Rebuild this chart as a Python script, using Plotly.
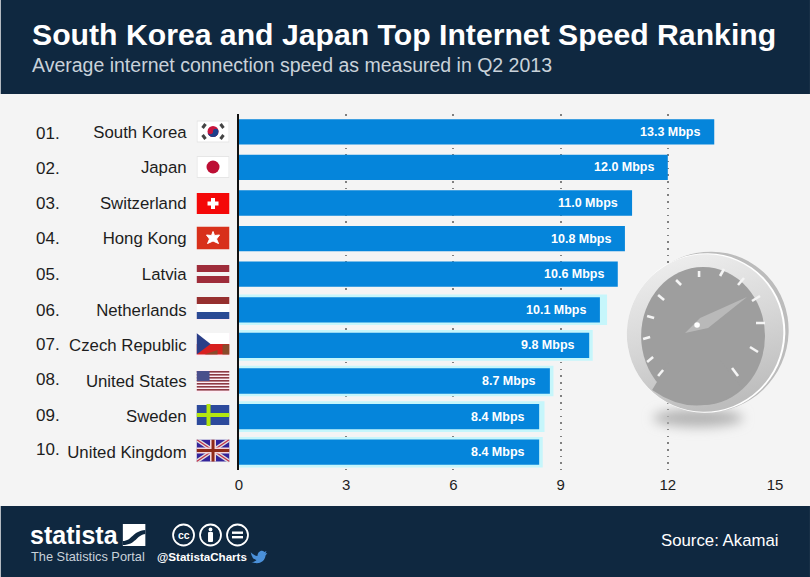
import base64
import plotly.graph_objects as go

# chart data
countries = ['South Korea', 'Japan', 'Switzerland', 'Hong Kong', 'Latvia',
             'Netherlands', 'Czech Republic', 'United States', 'Sweden', 'United Kingdom']
ranks = ['01.', '02.', '03.', '04.', '05.', '06.', '07.', '08.', '09.', '10.']
speeds = [13.3, 12.0, 11.0, 10.8, 10.6, 10.1, 9.8, 8.7, 8.4, 8.4]
# pale fringe that sits behind the lower bars in the picture
fringe = [0, 0, 0, 0, 0, 10.3, 9.9, 8.8, 8.55, 8.5]
x_ticks = [0, 3, 6, 9, 12, 15]

W, H = 810, 577
L, R, T, B = 238.5, 35, 114, 107
DARK = '#0f2840'
FONT = 'Liberation Sans, Arial, sans-serif'


def px(x):
    return (x - L) / (W - L - R)


def py(y):
    return 1 - (y - T) / (H - T - B)


def svg_image(svg, x, y, w, h):
    svg = f'<svg xmlns="http://www.w3.org/2000/svg" width="{w}" height="{h}" viewBox="0 0 {w} {h}">{svg}</svg>'
    src = 'data:image/svg+xml;base64,' + base64.b64encode(svg.encode()).decode()
    return dict(source=src, xref='paper', yref='paper', x=px(x), y=py(y),
                sizex=w / (W - L - R), sizey=h / (H - T - B),
                xanchor='left', yanchor='top', sizing='stretch', layer='above')


def label(text, x, y, size, color='#1d1d1d', anchor='left', bold=False):
    if bold:
        text = f'<b>{text}</b>'
    # annotations keep about 3px of padding around the text
    shift = {'left': -3, 'right': 3, 'center': 0}[anchor]
    return dict(text=text, xref='paper', yref='paper', x=px(x), y=py(y), showarrow=False, xshift=shift,
                xanchor=anchor, yanchor='middle', font=dict(family=FONT, size=size, color=color))


# flags, 33 x 23 px
star = 'M16.5 5 L18 9 L23 8.500 L20 12.500 L22 17 L16.500 14.500 L11 17 L13 12.500 L10 8.500 L15 9 Z'
flags = {
    'South Korea': '<rect x="0.5" y="1" width="32" height="21" fill="#fff" stroke="#e6e6e6"/>'
                   '<circle cx="16.5" cy="11.5" r="5.5" fill="#c9143c"/>'
                   '<path d="M11 11.5a5.5 5.5 0 0 0 11 0a2.75 2.75 0 0 0-5.5 0a2.75 2.75 0 0 1-5.5 0z" fill="#1c3f8c"/>'
                   '<g stroke="#444" stroke-width="3"><path d="M6 8L9 4"/><path d="M24 4L27 8"/>'
                   '<path d="M6 15L9 19"/><path d="M24 19L27 15"/></g>',
    'Japan': '<rect x="0.5" y="1" width="32" height="21" fill="#fff" stroke="#e6e6e6"/>'
             '<circle cx="16.5" cy="11.5" r="6.5" fill="#bd0e34"/>',
    'Switzerland': '<rect x="0" y="1" width="33" height="21" fill="#f40808"/>'
                   '<path d="M14.5 6h4v3.5h3.5v4h-3.5v3.5h-4v-3.5h-3.5v-4h3.5z" fill="#fff"/>',
    'Hong Kong': '<rect x="0" y="0" width="33" height="23" fill="#d8301a"/>'
                 f'<path d="{star}" fill="#fff" stroke="#fff" stroke-width="1" stroke-linejoin="round"/>',
    'Latvia': '<rect x="0" y="1.5" width="33" height="7" fill="#9e2c3a"/><rect x="0" y="8.5" width="33" height="4" fill="#f4f4f4"/>'
              '<rect x="0" y="12.5" width="33" height="7" fill="#9e2c3a"/>',
    'Netherlands': '<rect x="-3" y="-2" width="39" height="26" fill="#fdeaf4"/>'
                   '<rect x="0" y="0" width="33" height="7" fill="#96302f"/><rect x="0" y="7" width="33" height="8" fill="#fff"/>'
                   '<rect x="0" y="15" width="33" height="7" fill="#2a4a94"/>',
    'Czech Republic': '<rect x="-3" y="-2" width="39" height="26" fill="#fdeaf4"/>'
                      '<rect x="0" y="0" width="33" height="11" fill="#fff"/><rect x="0" y="11" width="33" height="10.5" fill="#d8201f"/>'
                      '<path d="M0 0L14 11L0 21.5Z" fill="#2a3f88"/><path d="M8 21.5L21 17V21.5ZM26 11.5H33V21.5H26Z" fill="#6f5a30" opacity="0.75"/>',
    'United States': '<rect x="-3" y="-2" width="39" height="26" fill="#fdeef5"/>'
                     + ''.join(f'<rect x="0" y="{1 + i * 3}" width="33" height="1.6" fill="#8e3a44"/>' for i in range(7))
                     + '<rect x="0" y="1" width="13" height="10" fill="#4a4f8c"/>',
    'Sweden': '<rect x="0" y="1" width="33" height="20" fill="#2c4a9c"/>'
              '<rect x="10" y="0" width="4" height="22" fill="#b4e60f"/><rect x="0" y="9" width="33" height="4" fill="#b4e60f"/>',
    'United Kingdom': '<rect x="0" y="0" width="33" height="22" fill="#33249a"/>'
                      '<path d="M0 0L33 22M33 0L0 22" stroke="#ddd" stroke-width="4"/>'
                      '<path d="M0 0L33 22M33 0L0 22" stroke="#c2304a" stroke-width="1.2"/>'
                      '<path d="M16.5 0V22M0 11H33" stroke="#f3d6dc" stroke-width="6"/>'
                      '<path d="M16.5 0V22M0 11H33" stroke="#8f2a18" stroke-width="3"/>',
}
flag_y = [120, 155.5, 192, 226.5, 263.5, 297, 333, 370, 404, 439.5]
rank_y = [133, 168, 203.5, 238.5, 274, 310, 344.5, 379.5, 415, 449.5]

# speedometer, coordinates are the picture from (600, 250)
dial_ticks = [(58, 126, 63, 120), (47, 112, 53, 107), (43, 89, 50, 87), (47, 66, 54, 68), (58, 45, 64, 50),
              (76, 30, 81, 35), (99, 21, 99, 27), (124, 19, 120, 26), (144, 28, 138, 35), (160, 46, 152, 51),
              (165, 73, 156, 73), (158, 102, 150, 97), (138, 126, 132, 118)]
dial = ('<defs><filter id="b" x="-50%" y="-100%" width="200%" height="300%"><feGaussianBlur stdDeviation="6"/></filter>'
        '<linearGradient id="r" x1="0.1" y1="0.1" x2="0.9" y2="0.75"><stop offset="0" stop-color="#efefef"/>'
        '<stop offset="0.5" stop-color="#d8d8d8"/><stop offset="1" stop-color="#bdbdbd"/></linearGradient></defs>'
        '<ellipse cx="98" cy="168" rx="45" ry="9" fill="#b4b4b4" filter="url(#b)"/>'
        '<ellipse cx="109" cy="82" rx="79" ry="81" fill="#bcbcbc" transform="rotate(35 109 82)"/>'
        '<ellipse cx="106" cy="83" rx="79" ry="80" fill="#fff" transform="rotate(35 106 83)"/>'
        '<ellipse cx="105" cy="83" rx="78" ry="79" fill="url(#r)" transform="rotate(35 105 83)"/>'
        '<ellipse cx="103" cy="86" rx="62" ry="69" fill="#9e9e9e"/>'
        '<path d="M52 140 Q98 172 142 138 L120 110 L70 110Z" fill="#9e9e9e"/>'
        + ''.join(f'<line x1="{a}" y1="{b}" x2="{c}" y2="{d}" stroke="#f4f4f4" stroke-width="2.6"/>' for a, b, c, d in dial_ticks)
        + '<path d="M85 83 L100 68 L147 47 L108 78Z" fill="#b9b9b9"/>'
        '<circle cx="97" cy="75" r="2.8" fill="#fff"/>')

# footer artwork
logo_box = ('<rect x="0" y="0" width="23" height="22" fill="#fff"/>'
            '<path d="M0 17C10 17 9 7 23 6V10C13 11 14 21 0 21Z" fill="#0f2840"/>')
cc_icons = ('<g fill="none" stroke="#fff" stroke-width="1.8"><circle cx="12" cy="12" r="10.5"/>'
            '<circle cx="39" cy="12" r="10.5"/><circle cx="66" cy="12" r="10.5"/></g>'
            '<circle cx="39" cy="6.5" r="1.9" fill="#fff"/><rect x="36.5" y="9" width="5" height="10" rx="1" fill="#fff"/>'
            '<rect x="60.5" y="8.5" width="11" height="2.4" fill="#fff"/><rect x="60.5" y="13" width="11" height="2.4" fill="#fff"/>')
bird = ('<path d="M0 3C3 6 5 7 7 7C7 3 11 0 14 3L16 2L15 4.500L17 4C16 5.500 15 6 15 7C14 13 8 16 1 13C4 13 5 12 6 11'
        'C3 10 2 9 2 8C1 7 1 5 0 3Z" fill="#4a90d9"/>')

fig = go.Figure()
fig.add_trace(go.Bar(y=countries, x=fringe, orientation='h', width=0.86,
                     marker=dict(color='#c6f6fb', line_width=0), hoverinfo='skip'))
fig.add_trace(go.Bar(y=countries, x=speeds, orientation='h', width=0.71,
                     marker=dict(color='#0585db', line_width=0)))

annotations = [
    label('South Korea and Japan Top Internet Speed Ranking', 32, 35, 30.2, '#ffffff', bold=True),
    label('Average internet connection speed as measured in Q2 2013', 32, 65, 19.5, '#c9d2da'),
    label('Source: Akamai', 778, 540, 16.8, '#ffffff', anchor='right'),
    label('statista', 30, 535, 25, '#ffffff', bold=True),
    label('The Statistics Portal', 31, 556, 12.8, '#c9d2da'),
    label('@StatistaCharts', 157, 556, 11.6, '#ffffff', bold=True),
    label('cc', 183, 534.5, 10.5, '#ffffff', anchor='center', bold=True),
]
for rank, y in zip(ranks, rank_y):
    annotations.append(label(rank, 36, y, 17))
for name, speed in zip(countries, speeds):
    annotations.append(dict(text=f'<b>{speed:.1f} Mbps</b>', x=speed, y=name, xref='x', yref='y', xshift=-12,
                            xanchor='right', yanchor='middle', showarrow=False,
                            font=dict(family=FONT, size=12.5, color='#ffffff')))

images = [svg_image(flags[name], 196, flag_y[i], 33, 23) for i, name in enumerate(countries)]
images.append(svg_image(dial, 600, 250, 210, 200))
images.append(svg_image(logo_box, 122, 524, 23, 22))
images.append(svg_image(cc_icons, 171, 523, 78, 24))
images.append(svg_image(bird, 250, 549, 17, 16))

fig.update_layout(
    width=W, height=H, autosize=False,
    barmode='overlay', showlegend=False,
    paper_bgcolor='#f4f4f4', plot_bgcolor='#f4f4f4',
    margin=dict(l=L, r=R, t=T, b=B, pad=0),
    font=dict(family=FONT, color='#1d1d1d'),
    annotations=annotations,
    images=images,
    shapes=[
        dict(type='rect', xref='paper', yref='paper', x0=px(0), x1=px(W), y0=py(0), y1=py(94),
             fillcolor=DARK, line_width=0, layer='below'),
        dict(type='rect', xref='paper', yref='paper', x0=px(0), x1=px(W), y0=py(506), y1=py(H),
             fillcolor=DARK, line_width=0, layer='below'),
    ],
)
fig.update_xaxes(range=[0, 15], tickvals=x_ticks, tickfont=dict(size=15, color='#1d1d1d'),
                 showgrid=True, gridcolor='#808080', griddash='1.5px,5.2px', gridwidth=1.5,
                 zeroline=False, showline=False, ticks='outside', ticklen=1, tickcolor='rgba(0,0,0,0)')
fig.update_yaxes(categoryorder='array', categoryarray=countries, autorange='reversed',
                 tickfont=dict(size=16.8, color='#1d1d1d'), ticklabelstandoff=47,
                 showgrid=False, zeroline=False, showline=True, linecolor='#111111', linewidth=2, ticks='')

# page margin off so the figure sits at the window corner
fig.write_html("out.html", config=dict(displayModeBar=False),
               post_script="document.body.style.margin='0';document.body.style.background='#f4f4f4';")
